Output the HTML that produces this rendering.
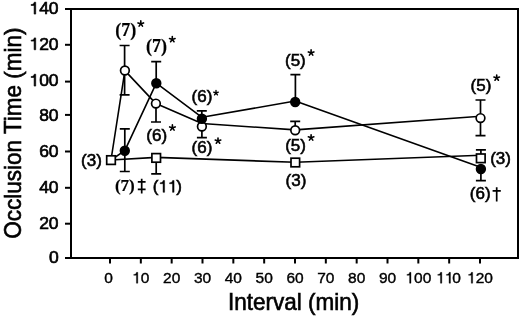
<!DOCTYPE html>
<html><head><meta charset="utf-8"><style>
html,body{margin:0;padding:0;background:#fff;overflow:hidden;}
svg{display:block;will-change:transform;}
text{font-family:"Liberation Sans", sans-serif;fill:#000;}
.b{stroke:#000;stroke-width:0.6px;}
.t{stroke:#000;stroke-width:0.65px;}
.x{stroke:#000;stroke-width:0.4px;}
.h{fill:none;stroke:none;}
.s{font-family:"Liberation Serif",serif;font-weight:bold;stroke:#000;stroke-width:0.2px;}
</style></head><body>
<svg width="520" height="317" viewBox="0 0 520 317">
<path d="M65 9H518V258H65" fill="none" stroke="#000" stroke-width="2"/>
<path d="M71 9V259" fill="none" stroke="#000" stroke-width="2"/>
<path d="M65 258.00H71" stroke="#000" stroke-width="2"/>
<g transform="translate(58.6 263.35) scale(1.03 1)"><text x="-9.45" y="0.00" font-size="17.0" class="t">0</text></g>
<path d="M65 223.70H71" stroke="#000" stroke-width="2"/>
<g transform="translate(58.6 228.75) scale(1.03 1)"><text x="-18.91" y="0.00" font-size="17.0" class="t">20</text></g>
<path d="M65 187.80H71" stroke="#000" stroke-width="2"/>
<g transform="translate(58.6 192.55) scale(1.03 1)"><text x="-18.91" y="0.00" font-size="17.0" class="t">40</text></g>
<path d="M65 151.50H71" stroke="#000" stroke-width="2"/>
<g transform="translate(58.6 156.55) scale(1.03 1)"><text x="-18.91" y="0.00" font-size="17.0" class="t">60</text></g>
<path d="M65 114.90H71" stroke="#000" stroke-width="2"/>
<g transform="translate(58.6 120.70) scale(1.03 1)"><text x="-18.91" y="0.00" font-size="17.0" class="t">80</text></g>
<path d="M65 81.60H71" stroke="#000" stroke-width="2"/>
<g transform="translate(58.6 86.10) scale(1.03 1)"><text x="-28.36" y="0.00" font-size="17.0" class="t"><tspan class="h">1</tspan>00</text><path transform="translate(-28.36 0.00) scale(0.00830 -0.00830)" d="M740 0H555V1040H200V1150Q400 1165 482 1245Q548 1315 566 1430H740Z" fill="#000" stroke="#000" stroke-width="72.3"/></g>
<path d="M65 44.80H71" stroke="#000" stroke-width="2"/>
<g transform="translate(58.6 49.75) scale(1.03 1)"><text x="-28.36" y="0.00" font-size="17.0" class="t"><tspan class="h">1</tspan>20</text><path transform="translate(-28.36 0.00) scale(0.00830 -0.00830)" d="M740 0H555V1040H200V1150Q400 1165 482 1245Q548 1315 566 1430H740Z" fill="#000" stroke="#000" stroke-width="72.3"/></g>
<path d="M65 9.00H71" stroke="#000" stroke-width="2"/>
<g transform="translate(58.6 14.10) scale(1.03 1)"><text x="-28.36" y="0.00" font-size="17.0" class="t"><tspan class="h">1</tspan>40</text><path transform="translate(-28.36 0.00) scale(0.00830 -0.00830)" d="M740 0H555V1040H200V1150Q400 1165 482 1245Q548 1315 566 1430H740Z" fill="#000" stroke="#000" stroke-width="72.3"/></g>
<path d="M110.00 258V263.5" stroke="#000" stroke-width="2"/>
<text x="104.19" y="283.20" font-size="15.5" class="x">0</text>
<path d="M140.83 258V263.5" stroke="#000" stroke-width="2"/>
<text x="132.21" y="283.20" font-size="15.5" class="x"><tspan class="h">1</tspan>0</text><path transform="translate(132.21 283.20) scale(0.00757 -0.00757)" d="M740 0H555V1040H200V1150Q400 1165 482 1245Q548 1315 566 1430H740Z" fill="#000" stroke="#000" stroke-width="46.2"/>
<path d="M171.67 258V263.5" stroke="#000" stroke-width="2"/>
<text x="163.05" y="283.20" font-size="15.5" class="x">20</text>
<path d="M202.50 258V263.5" stroke="#000" stroke-width="2"/>
<text x="193.88" y="283.20" font-size="15.5" class="x">30</text>
<path d="M233.33 258V263.5" stroke="#000" stroke-width="2"/>
<text x="224.71" y="283.20" font-size="15.5" class="x">40</text>
<path d="M264.17 258V263.5" stroke="#000" stroke-width="2"/>
<text x="255.55" y="283.20" font-size="15.5" class="x">50</text>
<path d="M295.00 258V263.5" stroke="#000" stroke-width="2"/>
<text x="286.38" y="283.20" font-size="15.5" class="x">60</text>
<path d="M325.83 258V263.5" stroke="#000" stroke-width="2"/>
<text x="317.21" y="283.20" font-size="15.5" class="x">70</text>
<path d="M356.67 258V263.5" stroke="#000" stroke-width="2"/>
<text x="348.05" y="283.20" font-size="15.5" class="x">80</text>
<path d="M387.50 258V263.5" stroke="#000" stroke-width="2"/>
<text x="378.88" y="283.20" font-size="15.5" class="x">90</text>
<path d="M418.33 258V263.5" stroke="#000" stroke-width="2"/>
<text x="405.40" y="283.20" font-size="15.5" class="x"><tspan class="h">1</tspan>00</text><path transform="translate(405.40 283.20) scale(0.00757 -0.00757)" d="M740 0H555V1040H200V1150Q400 1165 482 1245Q548 1315 566 1430H740Z" fill="#000" stroke="#000" stroke-width="46.2"/>
<path d="M449.17 258V263.5" stroke="#000" stroke-width="2"/>
<text x="436.24" y="283.20" font-size="15.5" class="x"><tspan class="h">1</tspan><tspan class="h">1</tspan>0</text><path transform="translate(436.24 283.20) scale(0.00757 -0.00757)" d="M740 0H555V1040H200V1150Q400 1165 482 1245Q548 1315 566 1430H740Z" fill="#000" stroke="#000" stroke-width="46.2"/><path transform="translate(444.86 283.20) scale(0.00757 -0.00757)" d="M740 0H555V1040H200V1150Q400 1165 482 1245Q548 1315 566 1430H740Z" fill="#000" stroke="#000" stroke-width="46.2"/>
<path d="M480.00 258V263.5" stroke="#000" stroke-width="2"/>
<text x="467.07" y="283.20" font-size="15.5" class="x"><tspan class="h">1</tspan>20</text><path transform="translate(467.07 283.20) scale(0.00757 -0.00757)" d="M740 0H555V1040H200V1150Q400 1165 482 1245Q548 1315 566 1430H740Z" fill="#000" stroke="#000" stroke-width="46.2"/>
<text transform="translate(293.6 309.5) scale(1 1.04)" text-anchor="middle" font-size="22.5" class="b">Interval (min)</text>
<text transform="translate(21 133.1) rotate(-90) scale(1 1.06)" text-anchor="middle" font-size="22.5" class="b">Occlusion Time (min)</text>
<path d="M124.60 70.50V45.50M119.60 45.50H129.60" stroke="#000" stroke-width="1.7" fill="none"/>
<path d="M124.60 70.50V94.80M119.60 94.80H129.60" stroke="#000" stroke-width="1.7" fill="none"/>
<path d="M124.80 150.70V128.80M119.80 128.80H129.80" stroke="#000" stroke-width="1.7" fill="none"/>
<path d="M124.80 150.70V171.50M119.80 171.50H129.80" stroke="#000" stroke-width="1.7" fill="none"/>
<path d="M156.20 83.20V61.60M151.20 61.60H161.20" stroke="#000" stroke-width="1.7" fill="none"/>
<path d="M156.00 103.60V122.00M151.00 122.00H161.00" stroke="#000" stroke-width="1.7" fill="none"/>
<path d="M156.20 157.90V173.80M151.20 173.80H161.20" stroke="#000" stroke-width="1.7" fill="none"/>
<path d="M201.80 118.70V110.90M196.80 110.90H206.80" stroke="#000" stroke-width="1.7" fill="none"/>
<path d="M201.90 126.50V137.70M196.90 137.70H206.90" stroke="#000" stroke-width="1.7" fill="none"/>
<path d="M295.40 102.00V74.70M290.40 74.70H300.40" stroke="#000" stroke-width="1.7" fill="none"/>
<path d="M295.20 130.30V121.40M290.20 121.40H300.20" stroke="#000" stroke-width="1.7" fill="none"/>
<path d="M480.50 118.10V100.00M475.50 100.00H485.50" stroke="#000" stroke-width="1.7" fill="none"/>
<path d="M480.50 118.10V135.70M475.50 135.70H485.50" stroke="#000" stroke-width="1.7" fill="none"/>
<path d="M480.90 158.30V149.90M475.90 149.90H485.90" stroke="#000" stroke-width="1.7" fill="none"/>
<path d="M480.90 169.00V180.70M475.90 180.70H485.90" stroke="#000" stroke-width="1.7" fill="none"/>
<polyline points="111.00,160.00 156.20,157.40 295.30,162.30 480.80,155.20" fill="none" stroke="#000" stroke-width="1.6" stroke-linejoin="round"/>
<polyline points="111.00,160.00 124.90,70.60 155.90,103.60 202.00,123.50 295.20,129.90 480.60,116.20" fill="none" stroke="#000" stroke-width="1.6" stroke-linejoin="round"/>
<polyline points="111.00,160.00 124.80,150.70 156.30,83.20 202.00,117.30 295.20,101.00 480.60,167.20" fill="none" stroke="#000" stroke-width="1.6" stroke-linejoin="round"/>
<rect x="106.70" y="155.80" width="8.6" height="8.6" fill="#fff" stroke="#000" stroke-width="1.7"/>
<rect x="151.90" y="153.60" width="8.6" height="8.6" fill="#fff" stroke="#000" stroke-width="1.7"/>
<rect x="291.00" y="158.20" width="8.6" height="8.6" fill="#fff" stroke="#000" stroke-width="1.7"/>
<rect x="476.50" y="154.00" width="8.6" height="8.6" fill="#fff" stroke="#000" stroke-width="1.7"/>
<circle cx="124.90" cy="70.50" r="4.35" fill="#fff" stroke="#000" stroke-width="1.7"/>
<circle cx="155.90" cy="103.60" r="4.35" fill="#fff" stroke="#000" stroke-width="1.7"/>
<circle cx="201.90" cy="126.50" r="4.35" fill="#fff" stroke="#000" stroke-width="1.7"/>
<circle cx="295.20" cy="130.30" r="4.35" fill="#fff" stroke="#000" stroke-width="1.7"/>
<circle cx="480.50" cy="118.10" r="4.35" fill="#fff" stroke="#000" stroke-width="1.7"/>
<circle cx="124.80" cy="150.70" r="4.35" fill="#000" stroke="#000" stroke-width="1.7"/>
<circle cx="156.30" cy="83.20" r="4.35" fill="#000" stroke="#000" stroke-width="1.7"/>
<circle cx="201.90" cy="118.70" r="4.35" fill="#000" stroke="#000" stroke-width="1.7"/>
<circle cx="295.20" cy="102.00" r="4.35" fill="#000" stroke="#000" stroke-width="1.7"/>
<circle cx="480.90" cy="169.00" r="4.35" fill="#000" stroke="#000" stroke-width="1.7"/>
<text x="115.20" y="35.60" font-size="18" class="s">(7)</text>
<text x="146.10" y="52.05" font-size="18" class="s">(7)</text>
<text x="146.30" y="140.60" font-size="17" class="b">(6)</text>
<text x="191.60" y="102.45" font-size="17" class="b">(6)</text>
<text x="191.60" y="152.85" font-size="17" class="b">(6)</text>
<text x="285.00" y="65.95" font-size="17" class="b">(5)</text>
<text x="285.20" y="150.80" font-size="17" class="b">(5)</text>
<text x="285.60" y="185.80" font-size="17" class="b">(3)</text>
<text x="470.60" y="90.60" font-size="17" class="b">(5)</text>
<text x="490.20" y="164.40" font-size="17" class="b">(3)</text>
<text x="469.80" y="199.20" font-size="17" class="b">(6)</text>
<text x="81.10" y="166.10" font-size="17" class="b">(3)</text>
<text x="114.90" y="190.70" font-size="17" class="s">(7)</text>
<text x="152.80" y="192.35" font-size="17" class="b">(<tspan class="h">1</tspan><tspan class="h">1</tspan>)</text><path transform="translate(158.46 192.35) scale(0.00830 -0.00830)" d="M740 0H555V1040H200V1150Q400 1165 482 1245Q548 1315 566 1430H740Z" fill="#000" stroke="#000" stroke-width="54.2"/><path transform="translate(167.92 192.35) scale(0.00830 -0.00830)" d="M740 0H555V1040H200V1150Q400 1165 482 1245Q548 1315 566 1430H740Z" fill="#000" stroke="#000" stroke-width="54.2"/>
<path d="M141.7 178.7V193.4M137.8 181.9H145.6M137.8 189.4H145.6" stroke="#000" stroke-width="1.7" fill="none"/>
<path d="M496.7 187.2V201.6M492.6 190.9H500.8" stroke="#000" stroke-width="1.7" fill="none"/>
<path d="M140.80 23.80L140.80 20.90M140.80 23.80L143.56 22.90M140.80 23.80L138.04 22.90M140.80 23.80L142.50 26.15M140.80 23.80L139.10 26.15" stroke="#000" stroke-width="1.6" stroke-linecap="round" fill="none"/>
<path d="M172.30 39.40L172.30 36.50M172.30 39.40L175.06 38.50M172.30 39.40L169.54 38.50M172.30 39.40L174.00 41.75M172.30 39.40L170.60 41.75" stroke="#000" stroke-width="1.6" stroke-linecap="round" fill="none"/>
<path d="M172.40 127.80L172.40 124.90M172.40 127.80L175.16 126.90M172.40 127.80L169.64 126.90M172.40 127.80L174.10 130.15M172.40 127.80L170.70 130.15" stroke="#000" stroke-width="1.6" stroke-linecap="round" fill="none"/>
<path d="M216.00 92.90L216.00 90.43M216.00 92.90L218.34 92.14M216.00 92.90L213.66 92.14M216.00 92.90L217.45 94.89M216.00 92.90L214.55 94.89" stroke="#000" stroke-width="1.36" stroke-linecap="round" fill="none"/>
<path d="M218.00 140.90L218.00 138.00M218.00 140.90L220.76 140.00M218.00 140.90L215.24 140.00M218.00 140.90L219.70 143.25M218.00 140.90L216.30 143.25" stroke="#000" stroke-width="1.6" stroke-linecap="round" fill="none"/>
<path d="M311.10 52.80L311.10 49.90M311.10 52.80L313.86 51.90M311.10 52.80L308.34 51.90M311.10 52.80L312.80 55.15M311.10 52.80L309.40 55.15" stroke="#000" stroke-width="1.6" stroke-linecap="round" fill="none"/>
<path d="M311.10 137.75L311.10 134.85M311.10 137.75L313.86 136.85M311.10 137.75L308.34 136.85M311.10 137.75L312.80 140.10M311.10 137.75L309.40 140.10" stroke="#000" stroke-width="1.6" stroke-linecap="round" fill="none"/>
<path d="M496.70 77.90L496.70 75.00M496.70 77.90L499.46 77.00M496.70 77.90L493.94 77.00M496.70 77.90L498.40 80.25M496.70 77.90L495.00 80.25" stroke="#000" stroke-width="1.6" stroke-linecap="round" fill="none"/>
</svg>
</body></html>
